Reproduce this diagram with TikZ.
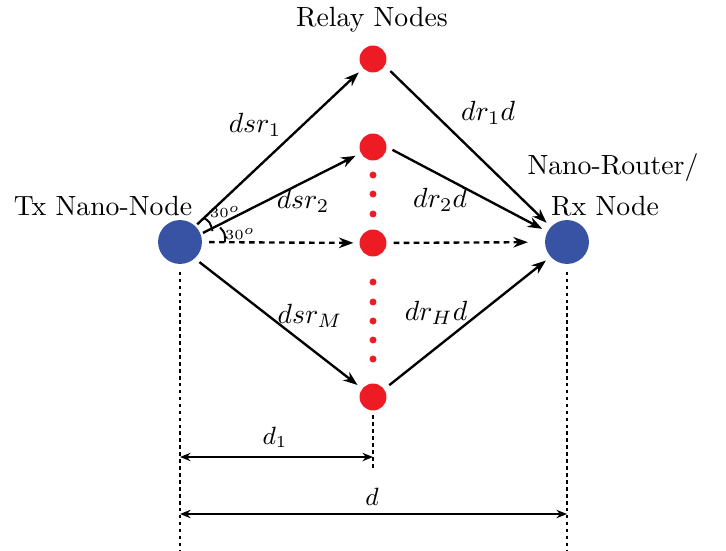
\documentclass[tikz,border=0pt]{standalone}
\usetikzlibrary{arrows.meta}
\definecolor{nodeblue}{HTML}{3953A4}
\definecolor{relayred}{HTML}{ED1C24}
\begin{document}
\begin{tikzpicture}[x=0.36pt,y=-0.36pt,
  bignode/.style={circle,fill=nodeblue,minimum size=15.8pt,inner sep=0pt},
  relay/.style={circle,fill=relayred,minimum size=9.7pt,inner sep=0pt},
  smalldot/.style={circle,fill=relayred,minimum size=2.5pt,inner sep=0pt},
  link/.style={line width=0.85pt,-{Stealth[length=5.2pt,width=3.8pt]},shorten >=2pt},
  dlink/.style={link,dash pattern=on 2pt off 1.6pt,shorten <=2.4pt},
  guide/.style={line width=0.85pt,dash pattern=on 1.3pt off 1.2pt},
  dimline/.style={line width=0.85pt,{Stealth[length=3.8pt,width=3pt]}-{Stealth[length=3.8pt,width=3pt]}},
  angarc/.style={line width=0.7pt},
  anglbl/.style={inner sep=0pt,font=\tiny},
  lbl/.style={inner sep=0pt}
]
\useasboundingbox (0,0) rectangle (726,550);
% nodes
\node[bignode] (tx) at (180,242) {};
\node[bignode] (rx) at (567,242) {};
\node[relay] (r1) at (373,59) {};
\node[relay] (r2) at (373,147) {};
\node[relay] (r3) at (373,243) {};
\node[relay] (rh) at (373,397) {};
\foreach \yy [count=\i] in {175,194,214,282,302,321,340,359}
  \node[smalldot] (dot\i) at (373,\yy) {};
% text labels
\node[lbl] (relaylbl) at (372,20) {Relay Nodes};
\node[lbl] (txlbl) at (103,206) {Tx Nano-Node};
\node[lbl] (rxlbl1) at (613,168) {Nano-Router/};
\node[lbl] (rxlbl2) at (605,206) {Rx Node};
% links from Tx
\draw[link,shorten <=0.8pt] (tx.46) -- (r1);
\draw[link,shorten <=0.8pt] (tx.21) -- (r2);
\draw[dlink] (tx) -- (r3);
\draw[link,shorten <=2pt] (tx.-48) -- (rh);
% links to Rx
\draw[link,shorten <=2.6pt] (r1.-30) -- (rx.137);
\draw[link,shorten <=2.2pt] (r2.east) -- (rx.152);
\draw[dlink,shorten >=6pt] (r3) -- (rx);
\draw[link,shorten <=2.2pt] (rh.35) -- (rx.-138);
% angle marks
\coordinate (a1s) at (204,218);
\coordinate (a1e) at (212.5,231);
\coordinate (a2s) at (220,227.5);
\coordinate (a2e) at (225,242);
\draw[angarc] (a1s) .. controls (210,222) .. (a1e);
\draw[angarc] (a2s) .. controls (225,233) .. (a2e);
\node[anglbl] (ang1) at (225,212) {$30^o$};
\node[anglbl] (ang2) at (240,234) {$30^o$};
% link labels
\node[lbl] (l1) at (255,125) {$dsr_1$};
\node[lbl] (l2) at (303,201) {$dsr_2$};
\node[lbl] (lm) at (310,316) {$dsr_M$};
\node[lbl] (l3) at (488,113) {$dr_1d$};
\node[lbl] (l4) at (440,200) {$dr_2d$};
\node[lbl] (l5) at (436,313) {$dr_Hd$};
% guide lines
\coordinate (g1b) at (180,550);
\coordinate (g2b) at (373,470);
\coordinate (g3b) at (567,550);
\draw[guide] ([yshift=-2.6pt]tx.south) -- (g1b);
\draw[guide] ([yshift=-1.6pt]rh.south) -- (g2b);
\draw[guide] ([yshift=-2.6pt]rx.south) -- (g3b);
% dimension lines
\coordinate (d1a) at (180,457);
\coordinate (d1b) at (373,457);
\coordinate (da) at (180,514);
\coordinate (db) at (567,514);
\draw[dimline] (d1a) -- (d1b);
\draw[dimline] (da) -- (db);
\node[lbl,font=\small] (d1lbl) at (275,437) {$d_1$};
\node[lbl,font=\small] (dlbl) at (372,497) {$d$};
\end{tikzpicture}
\end{document}
